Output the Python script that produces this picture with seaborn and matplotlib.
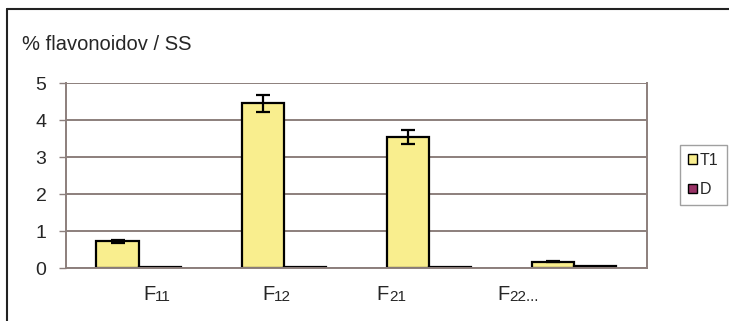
import pandas as pd
import seaborn as sns
import matplotlib.pyplot as plt
from matplotlib.patches import Rectangle
from matplotlib.lines import Line2D

# data
groups = ["F11", "F12", "F21", "F22"]
label_main = ["F", "F", "F", "F"]
label_sub = ["11", "12", "21", "22..."]
label_shift = [0.03, -0.15, -0.36, -0.53]
t1_vals = [0.72, 4.46, 3.54, 0.17]
t1_err = [0.03, 0.23, 0.18, 0.02]
d_vals = [0.02, 0.03, 0.03, 0.05]
series = ["T1", "D"]
colors = {"T1": "#f9ee8e", "D": "#993366"}
grid_col = "#8c7f7c"

df = pd.DataFrame({
    "group": groups * 2,
    "serie": ["T1"] * 4 + ["D"] * 4,
    "value": t1_vals + d_vals,
})

sns.set_style("white")
plt.rcParams["font.family"] = ["Liberation Sans", "DejaVu Sans"]

fig = plt.figure(figsize=(7.29, 3.21), dpi=100)
ax = fig.add_axes([0.0905, 0.165, 0.797, 0.576])

sns.barplot(data=df, x="group", y="value", hue="serie", hue_order=series,
            palette=colors, saturation=1, width=0.58, edgecolor="black",
            linewidth=1.6, errorbar=None, legend=False, ax=ax)

# error bars on the T1 bars
t1_bars = ax.patches[:len(groups)]
xs = [p.get_x() + p.get_width() / 2 for p in t1_bars]
ax.errorbar(xs, t1_vals, yerr=t1_err, fmt="none", ecolor="black",
            elinewidth=1.6, capsize=5, capthick=1.6, zorder=5)

ax.set_xlim(-0.5, len(groups) - 0.5)
ax.set_ylim(0, 5)
ax.set_yticks(range(6))
ax.tick_params(axis="y", labelsize=14, length=5, width=1, color=grid_col,
               pad=9, left=True)
ax.set_xticks([])
ax.set_xlabel("")
ax.set_ylabel("")
ax.yaxis.grid(True, color=grid_col, linewidth=1.4)
ax.set_axisbelow(True)
ax.spines["top"].set_visible(False)
for side in ["left", "right", "bottom"]:
    ax.spines[side].set_color(grid_col)
    ax.spines[side].set_linewidth(1.4)

# category labels: big F with smaller digits
for i, (m, s) in enumerate(zip(label_main, label_sub)):
    t = ax.text(i + label_shift[i], -0.86, m, fontsize=14.5, ha="left",
                va="baseline", transform=ax.transData, clip_on=False)
    ax.annotate(s, xy=(1, 0), xycoords=t, fontsize=11, ha="left",
                va="bottom", annotation_clip=False)

fig.text(22 / 729, 1 - 45 / 321, "% flavonoidov / SS", fontsize=14.5,
         va="center", ha="left")

handles = [Rectangle((0, 0), 1, 1, facecolor=colors[s], edgecolor="black",
                     linewidth=1) for s in series]
leg = fig.legend(handles, series, loc="center left",
                 bbox_to_anchor=(680 / 729, 1 - 175 / 321), frameon=True,
                 fontsize=11.5, handlelength=0.55, handleheight=0.55,
                 handletextpad=0.2, borderpad=0.5, labelspacing=0.9,
                 fancybox=False, borderaxespad=0)
leg.get_frame().set_edgecolor("#888888")
leg.get_frame().set_linewidth(1)

# outer chart frame (top and left edges visible)
fig.add_artist(Line2D([7 / 729, 1], [1 - 9 / 321] * 2, color="#222222",
                      linewidth=1.5, transform=fig.transFigure))
fig.add_artist(Line2D([7 / 729] * 2, [0, 1 - 9 / 321], color="#222222",
                      linewidth=1.5, transform=fig.transFigure))

fig.savefig("out.png", dpi=100)
